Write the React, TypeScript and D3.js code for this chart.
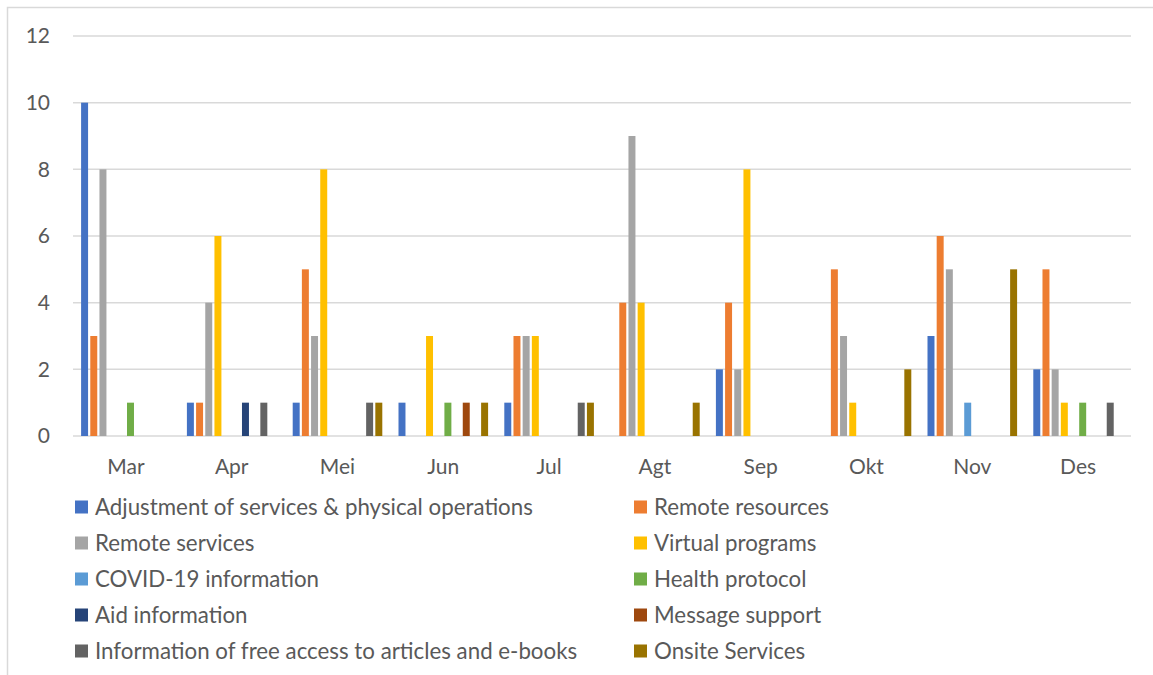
import React from "react";
import * as d3 from "d3";

const months = ["Mar", "Apr", "Mei", "Jun", "Jul", "Agt", "Sep", "Okt", "Nov", "Des"];
const seriesNames = [
  "Adjustment of services & physical operations",
  "Remote resources",
  "Remote services",
  "Virtual programs",
  "COVID-19 information",
  "Health protocol",
  "Aid information",
  "Message support",
  "Information of free access to articles and e-books",
  "Onsite Services",
];
const seriesColors = ["#4472C4", "#ED7D31", "#A5A5A5", "#FFC000", "#5B9BD5", "#70AD47", "#264478", "#9E480E", "#636363", "#997300"];

const adjustment = [10, 1, 1, 1, 1, 0, 2, 0, 3, 2];
const remoteResources = [3, 1, 5, 0, 3, 4, 4, 5, 6, 5];
const remoteServices = [8, 4, 3, 0, 3, 9, 2, 3, 5, 2];
const virtualPrograms = [0, 6, 8, 3, 3, 4, 8, 1, 0, 1];
const covidInfo = [0, 0, 0, 0, 0, 0, 0, 0, 1, 0];
const healthProtocol = [1, 0, 0, 1, 0, 0, 0, 0, 0, 1];
const aidInfo = [0, 1, 0, 0, 0, 0, 0, 0, 0, 0];
const messageSupport = [0, 0, 0, 1, 0, 0, 0, 0, 0, 0];
const freeAccess = [0, 1, 1, 0, 1, 0, 0, 0, 0, 1];
const onsite = [0, 0, 1, 1, 1, 1, 0, 2, 5, 0];
const yTicks = [0, 2, 4, 6, 8, 10, 12];

const seriesValues = [adjustment, remoteResources, remoteServices, virtualPrograms, covidInfo, healthProtocol, aidInfo, messageSupport, freeAccess, onsite];

const FONT = "Lato, 'Open Sans', sans-serif";
const TEXT = "#595959";

export default function App() {
  const W = 1153, H = 675;
  const x0 = d3.scaleBand<string>().domain(months).range([73, 1131]).padding(0);
  const x1 = d3.scaleBand<number>().domain(d3.range(seriesNames.length)).range([7, x0.bandwidth() - 7]).paddingInner(0.24).paddingOuter(0.12);
  const y = d3.scaleLinear().domain([0, 12]).range([436, 36]);

  return (
    <svg width={W} height={H} style={{ position: "absolute", left: 0, top: 0 }} fontFamily={FONT}>
      <rect x={0} y={0} width={W} height={H} fill="#fff" />
      <rect x={7.5} y={7.5} width={1300} height={800} fill="none" stroke="#d9d9d9" strokeWidth={1.5} />
      {yTicks.map((t) => (
        <g key={t}>
          <line x1={73} x2={1131} y1={y(t)} y2={y(t)} stroke="#d9d9d9" strokeWidth={1.5} />
          <text x={50} y={y(t)} dy="0.35em" textAnchor="end" fontSize={21} fill={TEXT}>{t}</text>
        </g>
      ))}
      {months.map((m, i) => (
        <g key={m}>
          {seriesValues.map((vals, s) =>
            vals[i] > 0 ? (
              <rect key={s} x={(x0(m) as number) + (x1(s) as number)} y={y(vals[i])} width={x1.bandwidth()} height={y(0) - y(vals[i])} fill={seriesColors[s]} />
            ) : null
          )}
          <text x={(x0(m) as number) + x0.bandwidth() / 2} y={467} dy="0.35em" textAnchor="middle" fontSize={21} fill={TEXT}>{m}</text>
        </g>
      ))}
      {seriesNames.map((name, s) => {
        const col = s % 2;
        const row = Math.floor(s / 2);
        const sx = col === 0 ? 75 : 634;
        const cy = 507 + row * 36;
        return (
          <g key={name}>
            <rect x={sx} y={cy - 6.5} width={13} height={13} fill={seriesColors[s]} />
            <text x={sx + 20} y={cy} dy="0.35em" fontSize={22.3} fill={TEXT}>{name}</text>
          </g>
        );
      })}
    </svg>
  );
}
